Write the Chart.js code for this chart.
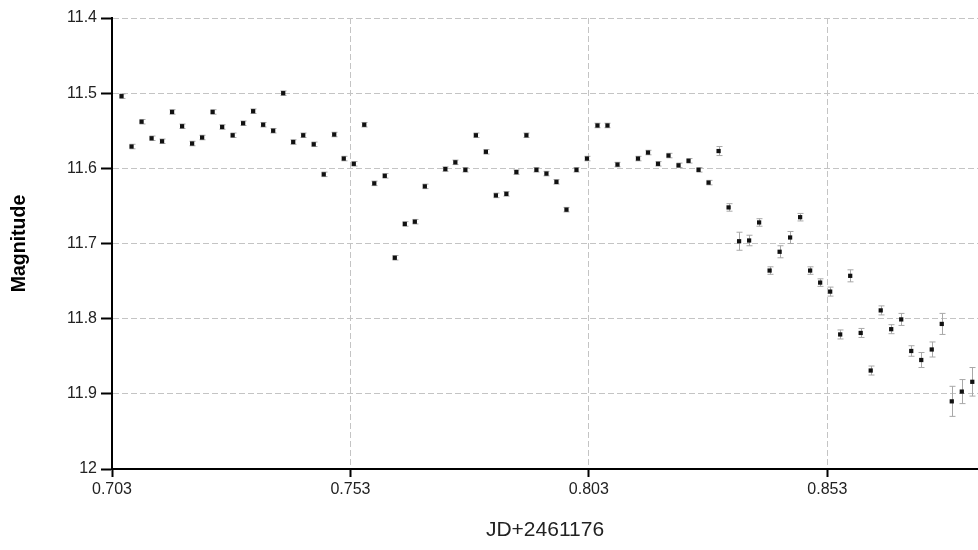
<!DOCTYPE html>
<html>
<head>
<meta charset="utf-8">
<title>Light curve</title>
<script src="https://cdn.jsdelivr.net/npm/chart.js@4.4.1/dist/chart.umd.min.js"></script>
<style>
  html, body { margin: 0; padding: 0; background: #fff; }
  #wrap { width: 978px; height: 550px; }
</style>
</head>
<body>
<div id="wrap"><canvas id="lc" width="978" height="550"></canvas></div>
<script>
// Observation times (JD - 2461176)
const jd = [
  0.7050, 0.7071, 0.7092, 0.7113, 0.7135, 0.7156, 0.7177, 0.7198, 0.7219, 0.7241,
  0.7261, 0.7283, 0.7305, 0.7326, 0.7347, 0.7368, 0.7389, 0.7410, 0.7431, 0.7453,
  0.7474, 0.7496, 0.7516, 0.7537, 0.7559, 0.7580, 0.7602, 0.7623, 0.7644, 0.7665,
  0.7686, 0.7729, 0.7750, 0.7771, 0.7793, 0.7814, 0.7835, 0.7857, 0.7878, 0.7899,
  0.7920, 0.7941, 0.7962, 0.7983, 0.8004, 0.8026, 0.8048, 0.8069, 0.8090, 0.8133,
  0.8154, 0.8175, 0.8197, 0.8218, 0.8239, 0.8260, 0.8281, 0.8302, 0.8323, 0.8345,
  0.8366, 0.8387, 0.8409, 0.8430, 0.8452, 0.8473, 0.8494, 0.8515, 0.8536, 0.8557,
  0.8578, 0.8600, 0.8621, 0.8642, 0.8664, 0.8685, 0.8706, 0.8727, 0.8749, 0.8770,
  0.8791, 0.8812, 0.8834
];

// Measured magnitudes
const magnitude = [
  11.504, 11.571, 11.538, 11.560, 11.564, 11.525, 11.544, 11.567, 11.559, 11.525,
  11.545, 11.556, 11.540, 11.524, 11.542, 11.550, 11.500, 11.565, 11.556, 11.568,
  11.608, 11.555, 11.587, 11.594, 11.542, 11.620, 11.610, 11.719, 11.674, 11.671,
  11.624, 11.601, 11.592, 11.602, 11.556, 11.578, 11.636, 11.634, 11.605, 11.556,
  11.602, 11.607, 11.618, 11.655, 11.602, 11.587, 11.543, 11.543, 11.595, 11.587,
  11.579, 11.594, 11.583, 11.596, 11.590, 11.602, 11.619, 11.577, 11.652, 11.697,
  11.696, 11.672, 11.736, 11.711, 11.692, 11.665, 11.736, 11.752, 11.764, 11.821,
  11.743, 11.819, 11.869, 11.789, 11.814, 11.801, 11.843, 11.855, 11.841, 11.807,
  11.910, 11.897, 11.884
];

// 1-sigma uncertainties
const magError = [
  0.003, 0.003, 0.003, 0.003, 0.003, 0.003, 0.003, 0.003, 0.003, 0.003,
  0.003, 0.003, 0.003, 0.003, 0.003, 0.003, 0.003, 0.003, 0.003, 0.003,
  0.003, 0.003, 0.003, 0.003, 0.003, 0.003, 0.003, 0.003, 0.003, 0.003,
  0.003, 0.003, 0.003, 0.003, 0.003, 0.003, 0.003, 0.003, 0.003, 0.003,
  0.003, 0.003, 0.003, 0.003, 0.003, 0.003, 0.003, 0.003, 0.003, 0.003,
  0.003, 0.003, 0.003, 0.003, 0.003, 0.003, 0.003, 0.006, 0.005, 0.012,
  0.007, 0.005, 0.005, 0.008, 0.008, 0.005, 0.005, 0.005, 0.006, 0.006,
  0.008, 0.006, 0.006, 0.006, 0.006, 0.008, 0.007, 0.010, 0.010, 0.014,
  0.020, 0.016, 0.019
];

// Axis tick values
const xTickValues = [0.703, 0.753, 0.803, 0.853];
const yTickValues = [11.4, 11.5, 11.6, 11.7, 11.8, 11.9, 12];

const FONT = '"Liberation Sans", Arial, sans-serif';

// Vertical error bars with small caps, drawn beneath the markers
const errorBars = {
  id: 'errorBars',
  beforeDatasetsDraw(chart) {
    const { ctx, scales: { x, y } } = chart;
    ctx.save();
    ctx.strokeStyle = '#a8a8a8';
    ctx.lineWidth = 1;
    jd.forEach((t, i) => {
      const px = Math.round(x.getPixelForValue(t)) + 0.5;
      const yHi = y.getPixelForValue(magnitude[i] - magError[i]);
      const yLo = y.getPixelForValue(magnitude[i] + magError[i]);
      ctx.beginPath();
      ctx.moveTo(px, yHi); ctx.lineTo(px, yLo);
      ctx.moveTo(px - 3, yHi); ctx.lineTo(px + 3, yHi);
      ctx.moveTo(px - 3, yLo); ctx.lineTo(px + 3, yLo);
      ctx.stroke();
    });
    ctx.restore();
  }
};

new Chart(document.getElementById('lc'), {
  type: 'scatter',
  data: {
    datasets: [{
      data: jd.map((t, i) => ({ x: t, y: magnitude[i] })),
      pointStyle: 'rect',
      pointRadius: 3,
      pointBackgroundColor: '#111',
      pointBorderWidth: 0,
      clip: false
    }]
  },
  options: {
    responsive: false,
    animation: false,
    events: [],
    layout: { autoPadding: false, padding: { top: 18, right: 0, bottom: 0, left: 0 } },
    plugins: { legend: { display: false }, tooltip: { enabled: false } },
    scales: {
      x: {
        type: 'linear',
        min: 0.703,
        max: 0.8846,
        afterBuildTicks: s => { s.ticks = xTickValues.map(v => ({ value: v })); },
        afterFit: s => { s.height = 81; },
        ticks: {
          autoSkip: false, maxRotation: 0, padding: 3, color: '#222',
          font: { family: FONT, size: 16 },
          callback: v => Number(v).toFixed(3)
        },
        grid: { color: '#c4c4c4', lineWidth: 1, tickColor: '#000', tickLength: 8, tickWidth: 2 },
        border: { color: '#000', width: 2, dash: [6, 3] },
        title: {
          display: true, text: 'JD+2461176', color: '#222',
          font: { family: FONT, size: 21 },
          padding: { top: 0, bottom: 7 }
        }
      },
      y: {
        type: 'linear',
        reverse: true,
        min: 11.4,
        max: 12,
        afterBuildTicks: s => { s.ticks = yTickValues.map(v => ({ value: v })); },
        afterFit: s => { s.width = 112; },
        ticks: {
          autoSkip: false, padding: 4, color: '#222',
          font: { family: FONT, size: 16 },
          callback: v => String(Number(Number(v).toFixed(1)))
        },
        grid: { color: '#c4c4c4', lineWidth: 1, tickColor: '#000', tickLength: 11, tickWidth: 2 },
        border: { color: '#000', width: 2, dash: [6, 3] },
        title: {
          display: true, text: 'Magnitude', color: '#000',
          font: { family: FONT, size: 19.5, weight: 'bold' },
          padding: { top: 8, bottom: 0 }
        }
      }
    }
  },
  plugins: [errorBars]
});
</script>
</body>
</html>
